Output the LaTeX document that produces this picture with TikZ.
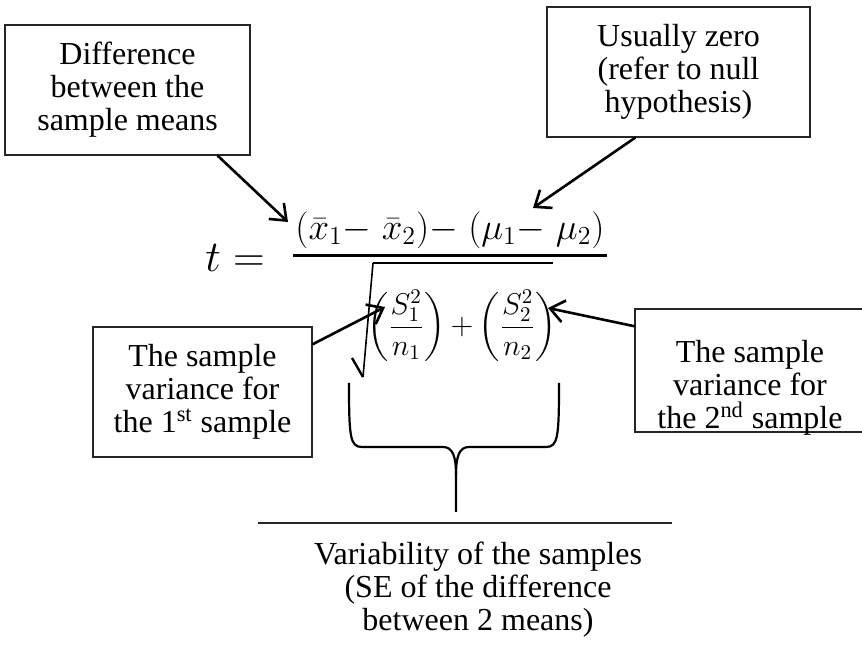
\RequirePackage{fix-cm}
\documentclass[tikz,border=0pt]{standalone}
\usepackage{amsmath}
\usepackage[no-math]{fontspec}
\setmainfont{Liberation Serif}
\usetikzlibrary{arrows.meta,calc,positioning}

\begin{document}
\begin{tikzpicture}[x=0.5pt, y=-0.5pt, >={Straight Barb[length=7pt,width=11pt]},
    box/.style={draw=black!85, line width=0.8pt, align=center, inner sep=0pt,
                font=\fontsize{16}{16.5}\selectfont},
    boxtext/.style={align=center, inner sep=0pt, font=\fontsize{16}{16.5}\selectfont},
    callout/.style={->, line width=1.3pt, line cap=round}]
    \useasboundingbox (0,0) rectangle (862,651);

    % Formula: t = numerator / sqrt(...)
    \node[font=\fontsize{22}{26}\selectfont] (tlhs) at (235,258) {$t =$};
    \node[font=\fontsize{18.5}{22}\selectfont] (numer) at (450,230)
        {$(\bar{x}_1{-}\;\bar{x}_2){-}\;(\mu_1{-}\;\mu_2)$};
    \draw[line width=1.5pt] (293,256) -- (607,256);

    % Radical sign and vinculum
    \draw[line width=1.2pt] (352,358) -- (363,377);
    \draw[line width=0.8pt] (363,377) -- (373,263);
    \draw[line width=1.3pt] (373,263) -- (553,263);
    \node[font=\fontsize{15}{18}\selectfont] (denom) at (462,326)
        {$\left(\dfrac{S_1^2}{n_1}\right){+}\left(\dfrac{S_2^2}{n_2}\right)$};

    % Difference between the sample means
    \node[box, minimum width=122.5pt, minimum height=65pt] (diffbox) at (127.5,90)
        {Difference\\between the\\sample means};
    \coordinate (xbarpt) at (288,222);
    \draw[callout] ([xshift=-16.5pt]diffbox.south east) -- (xbarpt);

    % Usually zero
    \node[box, minimum width=131.5pt, minimum height=65pt] (nullbox) at (678.5,72)
        {Usually zero\\(refer to null\\hypothesis)};
    \coordinate (mupt) at (533,208);
    \draw[callout] ([xshift=-21.75pt]nullbox.south) -- (mupt);

    % Variance of the 1st sample
    \node[box, minimum width=109.5pt, minimum height=65pt] (varonebox) at (202.5,392)
        {The sample\\variance for\\the 1\textsuperscript{st} sample};
    \coordinate (sonept) at (385,307);
    \draw[callout] ([yshift=-9pt]varonebox.north east) -- (sonept);

    % Variance of the 2nd sample
    \node[box, minimum width=115.5pt, minimum height=61.5pt] (vartwobox) at (750.5,370.5) {};
    \node[boxtext] (vartwotxt) at (750,388)
        {The sample\\variance for\\the 2\textsuperscript{nd} sample};
    \coordinate (stwopt) at (548,308);
    \draw[callout] ([yshift=-9pt]vartwobox.north west) -- (stwopt);

    % Brace under the radicand
    \draw[line width=1.1pt] (349,383) .. controls (349,437) and (350,447) .. (362,447)
        -- (443,447) .. controls (453,447) and (456,457) .. (456,475) -- (456,512);
    \draw[line width=1.1pt] (559,383) .. controls (559,437) and (558,447) .. (546,447)
        -- (469,447) .. controls (459,447) and (456,457) .. (456,475);

    % Variability of the samples
    \coordinate (seleft) at (258,523);
    \coordinate (seright) at (672,523);
    \draw[draw=black!85, line width=0.8pt] (seleft) -- (seright);
    \node[boxtext] (setxt) at (478,590)
        {Variability of the samples\\(SE of the difference\\between 2 means)};

\end{tikzpicture}
\end{document}
